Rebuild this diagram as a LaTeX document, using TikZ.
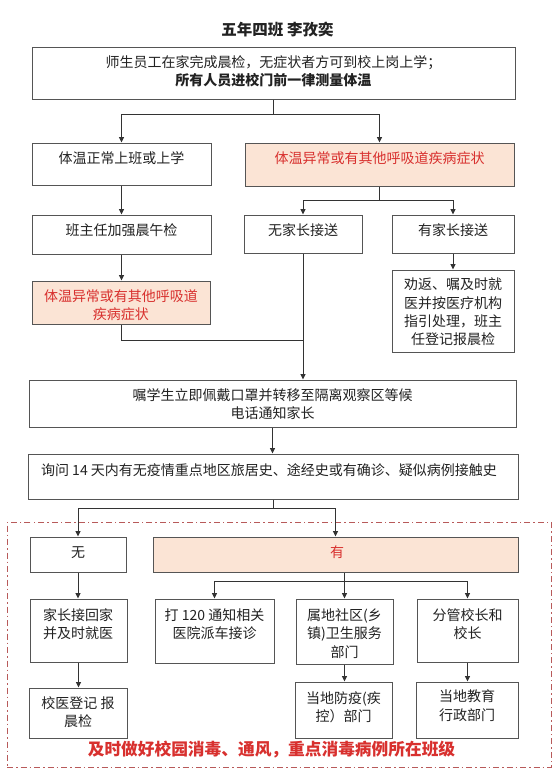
\documentclass[tikz,border=0pt]{standalone}
\usepackage{fontspec}
\setmainfont{Noto Sans CJK SC}
\usetikzlibrary{arrows.meta}
\definecolor{boxline}{HTML}{555555}
\definecolor{lncol}{HTML}{333333}
\definecolor{pinkfill}{HTML}{FBE4D5}
\definecolor{redtxt}{HTML}{D8302E}
\definecolor{framecol}{HTML}{B85A5A}
\definecolor{txtcol}{HTML}{222222}
\begin{document}
\begin{tikzpicture}[x=1pt,y=-1pt,
  box/.style={draw=boxline,line width=1pt,inner sep=0pt,rectangle},
  pinkbox/.style={box,fill=pinkfill},
  txt/.style={inner sep=0pt,align=center,text=txtcol,font=\fontsize{14}{18.3}\selectfont},
  redt/.style={txt,text=redtxt},
  link/.style={draw=lncol,line width=0.9pt},
  arr/.style={link,-{Triangle[length=5.5pt,width=5pt]}},
  framebox/.style={draw=framecol,line width=0.9pt,dash pattern=on 6pt off 3pt on 1.5pt off 3pt,inner sep=0pt,rectangle}]
\fill[white] (0,0) rectangle (560,780);
\useasboundingbox (0,0) rectangle (560,780);

% frame
\node[framebox,minimum width=544pt,minimum height=245pt] (frame) at (279,644.5) {};

% title
\node[inner sep=0pt,text=txtcol,font=\fontsize{15.5}{18}\selectfont\bfseries] (title) at (277.5,30) {五年四班 李孜奕};

% boxes
\node[box,minimum width=483pt,minimum height=52pt] (top) at (273.5,73) {};
\node[box,minimum width=179pt,minimum height=42pt] (b2) at (121.5,164) {};
\node[pinkbox,minimum width=269pt,minimum height=43pt] (b3) at (379.5,164.5) {};
\node[box,minimum width=179pt,minimum height=39pt] (b4) at (121.5,234.5) {};
\node[box,minimum width=118pt,minimum height=38pt] (b5) at (303,234) {};
\node[box,minimum width=122pt,minimum height=38pt] (b7) at (453,234) {};
\node[pinkbox,minimum width=178pt,minimum height=43pt] (b6) at (121,302.5) {};
\node[box,minimum width=122pt,minimum height=82pt] (b8) at (453,311) {};
\node[box,minimum width=487pt,minimum height=47pt] (b9) at (272.5,403.5) {};
\node[box,minimum width=490pt,minimum height=45pt] (b10) at (273,476.5) {};
\node[box,minimum width=96pt,minimum height=35pt] (b11) at (78,554.5) {};
\node[pinkbox,minimum width=365pt,minimum height=35pt] (b12) at (335.5,554.5) {};
\node[box,minimum width=97pt,minimum height=63pt] (b13) at (78.5,630.5) {};
\node[box,minimum width=119pt,minimum height=64pt] (b14) at (214.5,631) {};
\node[box,minimum width=97pt,minimum height=65pt] (b15) at (344.5,631.5) {};
\node[box,minimum width=101pt,minimum height=63pt] (b16) at (467.5,630.5) {};
\node[box,minimum width=98pt,minimum height=50pt] (b17) at (78,713) {};
\node[box,minimum width=97pt,minimum height=56pt] (b18) at (343.5,710) {};
\node[box,minimum width=102pt,minimum height=56pt] (b19) at (467,710) {};

% texts
\node[txt] (t1) at (273.5,71) {师生员工在家完成晨检，无症状者方可到校上岗上学；\\ {\bfseries 所有人员进校门前一律测量体温}};
\node[txt] (t2) at (121.5,158.5) {体温正常上班或上学};
\node[redt] (t3) at (379.5,158.5) {体温异常或有其他呼吸道疾病症状};
\node[txt] (t4) at (121.5,230.5) {班主任加强晨午检};
\node[txt] (t5) at (303,230.5) {无家长接送};
\node[txt] (t7) at (453,230.5) {有家长接送};
\node[redt] (t6) at (121,305) {体温异常或有其他呼吸道\\疾病症状};
\node[txt] (t8) at (453,312) {劝返、嘱及时就\\医并按医疗机构\\指引处理，班主\\任登记报晨检};
\node[txt] (t9) at (272.5,404) {嘱学生立即佩戴口罩并转移至隔离观察区等候\\电话通知家长};
\node[txt] (t10) at (269,470) {询问 14 天内有无疫情重点地区旅居史、途经史或有确诊、疑似病例接触史};
\node[txt] (t11) at (78,552.5) {无};
\node[redt] (t12) at (337,552.5) {有};
\node[txt] (t13) at (78,624) {家长接回家\\并及时就医};
\node[txt] (t14) at (214.5,624) {打 120 通知相关\\医院派车接诊};
\node[txt] (t15) at (344.5,633.5) {属地社区(乡\\镇)卫生服务\\部门};
\node[txt] (t16) at (467.5,624) {分管校长和\\校长};
\node[txt] (t17) at (78,712.5) {校医登记 报\\晨检};
\node[txt] (t18) at (343.5,707.5) {当地防疫(疾\\控）部门};
\node[txt] (t19) at (467,705.5) {当地教育\\行政部门};

\node[inner sep=0pt,text=redtxt,font=\fontsize{16.7}{20}\selectfont\bfseries] (note) at (271.5,750) {及时做好校园消毒、通风，重点消毒病例所在班级};

% connectors
\coordinate (s1) at (273.5,114);
\draw[link] (top.south) -- (s1);
\draw[arr] (s1) -| (b2.north);
\draw[arr] (s1) -| (b3.north);
\draw[arr] (b2.south) -- (b4.north);
\draw[arr] (b4.south) -- (b4.south |- b6.north);
\coordinate (s2) at (379.5,200);
\draw[link] (b3.south) -- (s2);
\draw[arr] (s2) -| (b5.north);
\draw[arr] (s2) -| (b7.north);
\draw[arr] (b7.south) -- (b8.north);
\draw[arr] (b5.south) -- (b5.south |- b9.north);
\coordinate (j1) at (303,340);
\draw[link] (b6.south) |- (j1);
\draw[arr] (b9.south) -- (b9.south |- b10.north);
\coordinate (s3) at (273,508);
\draw[link] (b10.south) -- (s3);
\draw[arr] (s3) -| (b11.north);
\draw[arr] (s3) -| (b12.north);
\draw[arr] (b11.south) -- (b11.south |- b13.north);
\draw[arr] (b13.south) -- (b13.south |- b17.north);
\coordinate (s4) at (344.5,581);
\draw[link] (s4 |- b12.south) -- (s4);
\draw[arr] (s4) -| (b14.north);
\draw[arr] (s4) -- (b15.north);
\draw[arr] (s4) -| (b16.north);
\draw[arr] (b15.south) -- (b15.south |- b18.north);
\draw[arr] (b16.south) -- (b16.south |- b19.north);
\end{tikzpicture}
\end{document}
